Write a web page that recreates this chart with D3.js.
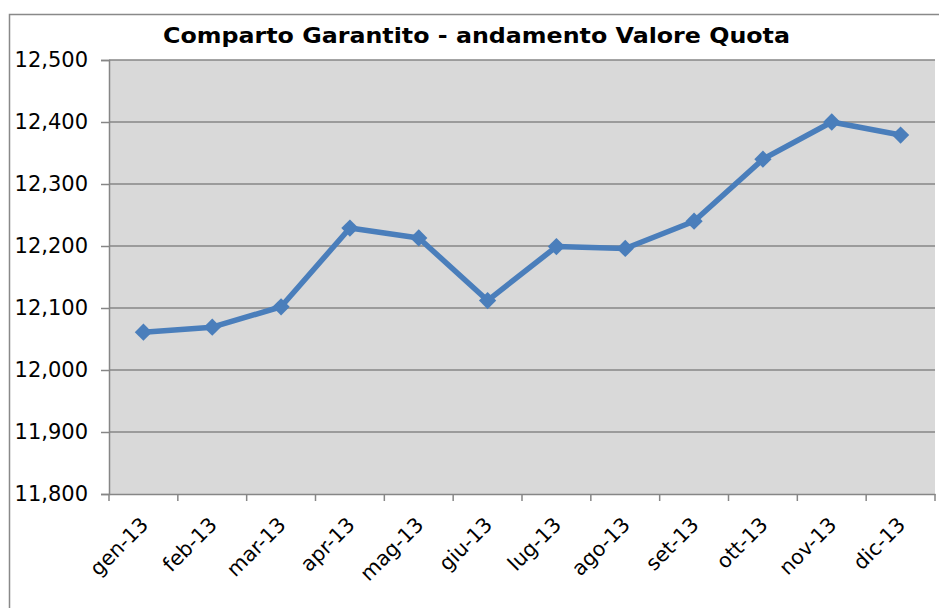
<!DOCTYPE html>
<html>
<head>
<meta charset="utf-8">
<script src="https://cdn.jsdelivr.net/npm/d3@7"></script>
<style>
  body { margin: 0; background: #fff; }
  svg { display: block; font-family: "DejaVu Sans", Verdana, sans-serif; }
</style>
</head>
<body>
<svg id="chart"></svg>
<script>
const months = ['gen-13', 'feb-13', 'mar-13', 'apr-13', 'mag-13', 'giu-13',
  'lug-13', 'ago-13', 'set-13', 'ott-13', 'nov-13', 'dic-13'];
const quota = [12061, 12069, 12102, 12229, 12213, 12112,
  12199, 12196, 12240, 12340, 12400, 12379];
const yTicks = [11800, 11900, 12000, 12100, 12200, 12300, 12400, 12500];
const title = 'Comparto Garantito - andamento Valore Quota';

const W = 939, H = 608;
const m = { top: 60, left: 109, right: 4, bottom: 114 };

const svg = d3.select('#chart').attr('width', W).attr('height', H)

// bordo esterno (tagliato a destra e in basso)
svg.append('path')
.attr('d', `M9.5,${H}V14.5H${W}`)
.attr('fill', 'none')
.attr('stroke', '#898989')
.attr('stroke-width', 1.5)

const x = d3.scaleBand().domain(months).range([m.left, W - m.right])
const y = d3.scaleLinear().domain([11800, 12500]).range([H - m.bottom, m.top])

svg.append('rect')
.attr('x', m.left).attr('y', m.top)
.attr('width', W - m.right - m.left)
.attr('height', H - m.bottom - m.top)
.attr('fill', '#d9d9d9')

// griglia + asse y
const yAxis = svg.append('g')
.attr('transform', `translate(${m.left},0)`)
.call(d3.axisLeft(y).tickValues(yTicks).tickSize(8).tickPadding(13)
  .tickFormat(d3.format(',')))
yAxis.select('.domain').attr('stroke', '#868686').attr('stroke-width', 1.5)
yAxis.selectAll('.tick line').attr('stroke', '#868686').attr('stroke-width', 1.5)
yAxis.selectAll('.tick text').attr('font-size', 21).attr('fill', '#000')
  .attr('font-family', '"DejaVu Sans", Verdana, sans-serif')

svg.append('g')
.selectAll('line')
.data(yTicks.slice(1))
.enter()
.append('line')
.attr('x1', m.left).attr('x2', W - m.right)
.attr('y1', d => y(d)).attr('y2', d => y(d))
.attr('stroke', '#868686')
.attr('stroke-width', 1.5)

// asse x
const xAxis = svg.append('g')
.attr('transform', `translate(0,${H - m.bottom})`)
.call(d3.axisBottom(x).tickSize(0).tickPadding(0))
xAxis.select('.domain').attr('stroke', '#868686').attr('stroke-width', 1.5)
xAxis.selectAll('.tick text')
.attr('font-size', 20.5)
.attr('fill', '#000')
.attr('font-family', '"DejaVu Sans", Verdana, sans-serif')
.attr('text-anchor', 'end')
.attr('dy', 0)
.attr('transform', 'translate(6,32) rotate(-45)')

svg.append('g')
.selectAll('line')
.data(d3.range(months.length + 1))
.enter()
.append('line')
.attr('x1', i => m.left + i * x.step()).attr('x2', i => m.left + i * x.step())
.attr('y1', H - m.bottom).attr('y2', H - m.bottom + 7)
.attr('stroke', '#868686')
.attr('stroke-width', 1.5)

// serie
const cx = d => x(d) + x.bandwidth() / 2
svg.append('path')
.datum(quota)
.attr('fill', 'none')
.attr('stroke', '#4a7ebb')
.attr('stroke-width', 5.5)
.attr('stroke-linejoin', 'round')
.attr('d', d3.line().x((d, i) => cx(months[i])).y(d => y(d)))

svg.append('g')
.selectAll('path')
.data(quota)
.enter()
.append('path')
.attr('d', d3.symbol().type(d3.symbolDiamond2).size(190))
.attr('transform', (d, i) => `translate(${cx(months[i])},${y(d)})`)
.attr('fill', '#4a7ebb')

svg.append('text')
.attr('x', 476.5).attr('y', 43)
.attr('text-anchor', 'middle')
.attr('font-size', 22)
.attr('font-weight', 'bold')
.attr('textLength', 627)
.attr('lengthAdjust', 'spacingAndGlyphs')
.text(title)
</script>
</body>
</html>
